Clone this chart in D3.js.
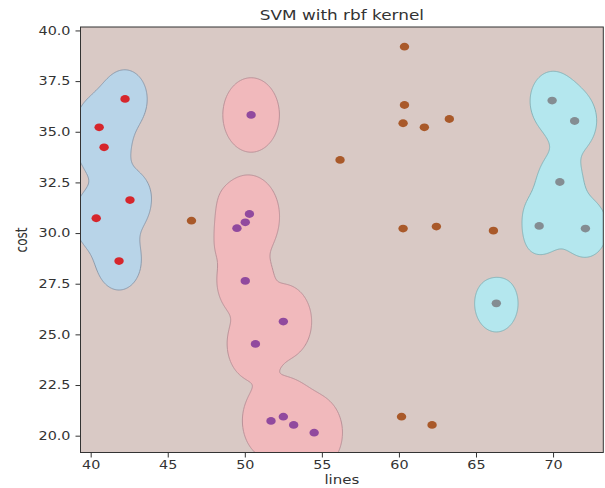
<!DOCTYPE html>
<html>
<head>
<meta charset="utf-8">
<title>SVM with rbf kernel</title>
<script src="https://d3js.org/d3.v7.min.js"></script>
<style>
    body { margin: 0; background: #fff; }
    svg { display: block; }
    text { font-family: "DejaVu Sans", sans-serif; fill: #333; }
    .axis path, .axis line { stroke: #333; }
</style>
</head>
<body>
<svg width="605" height="488"></svg>
<script>
// points, [lines, cost]
const redPts = [[40.55,35.22],[40.87,34.23],[42.23,36.62],[42.55,31.63],[40.36,30.73],[41.84,28.62]];
const purplePts = [[50.41,35.83],[50.30,30.94],[50.03,30.53],[49.49,30.24],[50.03,27.64],[52.50,25.63],
                   [50.69,24.53],[51.70,20.73],[52.50,20.94],[53.17,20.53],[54.50,20.15]];
const brownPts = [[60.36,39.20],[60.36,36.32],[60.27,35.42],[61.65,35.22],[63.27,35.63],[56.18,33.61],
                  [46.54,30.61],[60.27,30.22],[62.43,30.32],[66.13,30.12],[60.17,20.94],[62.15,20.53]];
const grayPts = [[69.94,36.54],[71.40,35.53],[70.44,32.52],[69.10,30.35],[72.10,30.22],[66.32,26.53]];

const xTicks = [40, 45, 50, 55, 60, 65, 70];
const yTicks = [20, 22.5, 25, 27.5, 30, 32.5, 35, 37.5, 40];

// rough kernel model for the decision regions (sigma, threshold)
const regions = [
    {pts: redPts, sigma: 1.0, t: 0.36, fill: '#b8d4e8', stroke: '#8c9aab'},
    {pts: purplePts, sigma: 0.8, t: 0.072, fill: '#f1b9bc', stroke: '#b99198'},
    {pts: grayPts, sigma: 1.0, t: 0.37, fill: '#b4e7ee', stroke: '#86b3b8'}
];

let svg = d3.select('svg');
let margin = {top: 27, left: 80.5, right: 1.7, bottom: 35.5};
let width = 605 - margin.left - margin.right;
let height = 488 - margin.top - margin.bottom;
const sx = 1.25; // text in the picture is stretched sideways

let x = d3.scaleLinear().domain([39.34, 73.26]).range([0, width]);
let y = d3.scaleLinear().domain([19.17, 40.17]).range([height, 0]);

let g = svg.append('g').attr('transform', `translate(${margin.left},${margin.top})`);

svg.append('defs').append('clipPath').attr('id', 'plot')
    .append('rect').attr('width', width).attr('height', height);

let plot = g.append('g').attr('clip-path', 'url(#plot)');
plot.append('rect').attr('width', width).attr('height', height).attr('fill', '#d9c9c5');

// evaluate kernel sums on a grid, contour them
const step = 0.05, gx0 = 39.0, gx1 = 73.6, gy0 = 18.8, gy1 = 40.6;
const nx = Math.round((gx1 - gx0) / step), ny = Math.round((gy1 - gy0) / step);

function kernelSum(pts, px, py, s2) {
    let s = 0;
    pts.forEach(p => {
        let dx = px - p[0], dy = py - p[1];
        s += Math.exp(-(dx * dx + dy * dy) / s2);
    });
    return s;
}

let proj = d3.geoTransform({
    point: function(a, b) { this.stream.point(x(gx0 + a * step), y(gy0 + b * step)); }
});
let path = d3.geoPath(proj);

regions.forEach(r => {
    let s2 = 2 * r.sigma * r.sigma;
    let values = new Float64Array(nx * ny);
    for (let j = 0; j < ny; j++) {
        let py = gy0 + (j + 0.5) * step;
        for (let i = 0; i < nx; i++) {
            let px = gx0 + (i + 0.5) * step;
            values[j * nx + i] = kernelSum(r.pts, px, py, s2) - kernelSum(brownPts, px, py, s2);
        }
    }
    let c = d3.contours().size([nx, ny]).thresholds([r.t])(values);
    plot.selectAll(null)
        .data(c)
        .join('path')
        .attr('d', path)
        .attr('fill', r.fill)
        .attr('stroke', r.stroke)
        .attr('stroke-width', 1);
});

const dots = [
    {pts: redPts, color: '#d6262c'},
    {pts: purplePts, color: '#914a9e'},
    {pts: brownPts, color: '#a9592a'},
    {pts: grayPts, color: '#848d92'}
];
dots.forEach(d => {
    plot.selectAll(null)
        .data(d.pts)
        .join('ellipse')
        .attr('cx', p => x(p[0]))
        .attr('cy', p => y(p[1]))
        .attr('rx', 4.7)
        .attr('ry', 3.9)
        .attr('fill', d.color);
});

// frame
g.append('rect').attr('width', width).attr('height', height)
    .attr('fill', 'none').attr('stroke', '#333').attr('stroke-width', 1);

let xAxis = g.append('g').attr('class', 'axis')
    .attr('transform', `translate(0,${height})`)
    .call(d3.axisBottom(x).tickValues(xTicks).tickSize(5).tickSizeOuter(0).tickPadding(3));
let yAxis = g.append('g').attr('class', 'axis')
    .call(d3.axisLeft(y).tickValues(yTicks).tickFormat(d3.format('.1f')).tickSize(5).tickSizeOuter(0).tickPadding(3));
g.selectAll('.axis .domain').remove();
g.selectAll('.axis text')
    .style('font-size', '11.5px')
    .style('font-family', '"DejaVu Sans", sans-serif')
    .attr('fill', '#333')
    .attr('transform', `scale(${sx},1)`);

svg.append('text')
    .attr('transform', `translate(${margin.left + width / 2},19.5) scale(${sx},1)`)
    .attr('text-anchor', 'middle')
    .style('font-size', '13.5px')
    .text('SVM with rbf kernel');

svg.append('text')
    .attr('transform', `translate(${margin.left + width / 2},484) scale(${sx},1)`)
    .attr('text-anchor', 'middle')
    .style('font-size', '12px')
    .text('lines');

svg.append('text')
    .attr('transform', `translate(27,240) scale(${sx},1) rotate(-90)`)
    .attr('text-anchor', 'middle')
    .style('font-size', '12px')
    .text('cost');
</script>
</body>
</html>
